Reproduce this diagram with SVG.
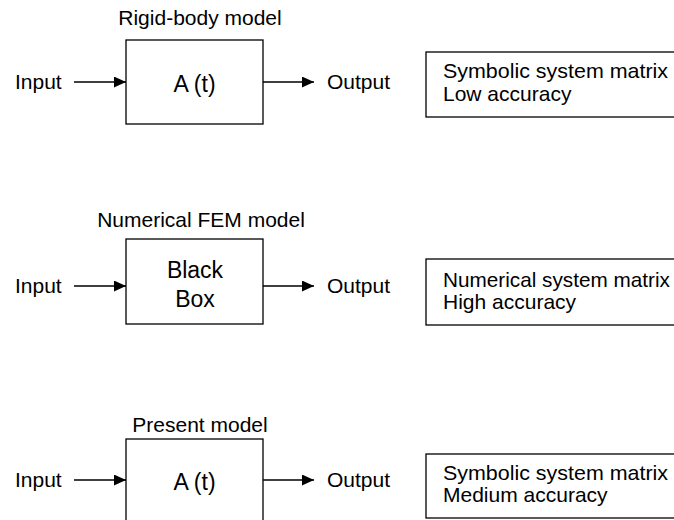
<svg xmlns="http://www.w3.org/2000/svg" width="674" height="520" viewBox="0 0 674 520">
<style>
text{font-family:"Liberation Sans",Arial,sans-serif;font-size:21px;fill:#000}
.in{font-size:23px}
.box{fill:#fff;stroke:#000;stroke-width:1.3}
.c{stroke:#000;stroke-width:1.3;fill:none;marker-end:url(#ah)}
.m{text-anchor:middle}
</style>
<defs>
<marker id="ah" viewBox="0 0 12 11" refX="12" refY="5.5" markerWidth="12" markerHeight="11" markerUnits="userSpaceOnUse" orient="auto">
<path d="M0,0L12,5.5L0,11z" fill="#000"/>
</marker>
</defs>
<rect width="674" height="520" fill="#fff"/>
<g id="connectors">
<line class="c" x1="74" y1="82" x2="126" y2="82"/>
<line class="c" x1="263" y1="82" x2="314" y2="82"/>
<line class="c" x1="74" y1="286" x2="126" y2="286"/>
<line class="c" x1="263" y1="286" x2="314" y2="286"/>
<line class="c" x1="74" y1="480" x2="126" y2="480"/>
<line class="c" x1="263" y1="480" x2="314" y2="480"/>
</g>
<g id="row1">
<text x="15" y="89">Input</text>
<g id="rigid-body-model">
<text class="m" x="200" y="25">Rigid-body model</text>
<rect class="box" x="126" y="40" width="137" height="84"/>
<text class="m in" x="194.5" y="92">A (t)</text>
</g>
<text x="327" y="89">Output</text>
<g id="result1">
<rect class="box" x="426" y="52" width="270" height="65"/>
<text x="443" y="78" textLength="225" lengthAdjust="spacingAndGlyphs">Symbolic system matrix</text>
<text x="443" y="101">Low accuracy</text>
</g>
</g>
<g id="row2">
<text x="15" y="293">Input</text>
<g id="fem-model">
<text class="m" x="201" y="227">Numerical FEM model</text>
<rect class="box" x="126" y="239" width="137" height="85"/>
<text class="m in" x="195" y="278">Black</text>
<text class="m in" x="195" y="307">Box</text>
</g>
<text x="327" y="293">Output</text>
<g id="result2">
<rect class="box" x="426" y="259" width="270" height="66"/>
<text x="443" y="287" textLength="227" lengthAdjust="spacingAndGlyphs">Numerical system matrix</text>
<text x="443" y="309">High accuracy</text>
</g>
</g>
<g id="row3">
<text x="15" y="487">Input</text>
<g id="present-model">
<text class="m" x="200" y="432">Present model</text>
<rect class="box" x="126" y="439" width="137" height="100"/>
<text class="m in" x="194.5" y="490">A (t)</text>
</g>
<text x="327" y="487">Output</text>
<g id="result3">
<rect class="box" x="426" y="454" width="270" height="64"/>
<text x="443" y="480" textLength="225" lengthAdjust="spacingAndGlyphs">Symbolic system matrix</text>
<text x="443" y="502">Medium accuracy</text>
</g>
</g>
</svg>
